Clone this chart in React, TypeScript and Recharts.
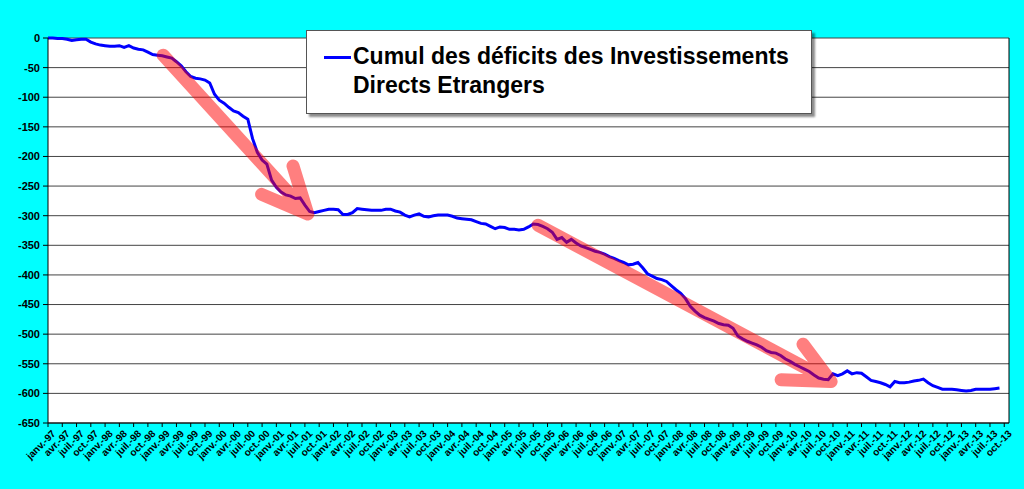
import React from 'react';
import { LineChart, Line, XAxis, YAxis, CartesianGrid, ReferenceLine } from 'recharts';

// Month abbreviations (French) and years covered by the category axis
const monthNames = ['janv.', 'févr.', 'mars', 'avr.', 'mai', 'juin', 'juil.', 'août', 'sept.', 'oct.', 'nov.', 'déc.'];
const firstYear = 1997;
const categoryCount = 202; // janv.-97 .. oct.-13

// Cumulated FDI deficit, monthly, from janv.-97
const cumulDeficit = [
  0, 0, -1, -1, -2, -4, -3, -2, -2, -7,
  -10, -12, -13, -14, -14, -13, -16, -13, -17, -19,
  -20, -24, -28, -29, -30, -32, -34, -40, -47, -57,
  -65, -68, -69, -71, -76, -95, -105, -110, -117, -123,
  -126, -132, -137, -170, -193, -206, -213, -240, -252, -260,
  -265, -267, -271, -270, -282, -293, -295, -293, -291, -289,
  -289, -290, -298, -298, -295, -288, -289, -290, -291, -291,
  -291, -289, -289, -292, -294, -299, -302, -299, -297, -301,
  -302, -300, -299, -299, -299, -301, -304, -305, -306, -307,
  -310, -313, -314, -318, -322, -319, -320, -323, -323, -324,
  -323, -319, -314, -315, -318, -322, -328, -340, -337, -345,
  -340, -346, -351, -354, -357, -360, -362, -365, -369, -372,
  -376, -379, -383, -382, -379, -388, -398, -402, -406, -408,
  -411, -418, -425, -431, -440, -453, -461, -468, -472, -475,
  -478, -482, -484, -485, -490, -503, -508, -512, -515, -518,
  -522, -528, -531, -532, -536, -542, -546, -551, -555, -559,
  -563, -569, -574, -576, -577, -567, -570, -567, -562, -567,
  -565, -566, -572, -578, -580, -582, -585, -589, -580, -582,
  -582, -581, -579, -578, -576, -582, -587, -590, -593, -593,
  -593, -594, -595, -596, -595, -593, -593, -593, -593, -592,
  -591,
];

const yTicks = [0, -50, -100, -150, -200, -250, -300, -350, -400, -450, -500, -550, -600, -650];

// Annotation arrows, each drawn as one polyline (shaft start -> tip -> arm -> tip -> arm)
const arrow1 = [
  { i: 24.2, a: -29 },
  { i: 54.6, a: -297 },
  { i: 51.5, a: -216 },
  { i: 54.6, a: -297 },
  { i: 44.9, a: -264 },
];
const arrow2 = [
  { i: 103, a: -316 },
  { i: 164.6, a: -580 },
  { i: 158.7, a: -517 },
  { i: 164.6, a: -580 },
  { i: 154.1, a: -577 },
];

const categories: string[] = [];
for (let k = 0; k < categoryCount; k++) {
  const yy = String((firstYear + Math.floor(k / 12)) % 100).padStart(2, '0');
  categories.push(`${monthNames[k % 12]}-${yy}`);
}
const xTicks: number[] = [];
for (let k = 0; k < categoryCount; k += 3) xTicks.push(k);

const data = cumulDeficit.map((v, i) => ({ i, month: categories[i], v }));

const FONT = '"Liberation Sans", Arial, sans-serif';

const XTick = (props: any) => {
  const { x, y, payload } = props;
  const label = categories[payload.value] ?? '';
  return (
    <g transform={`translate(${x + 4},${y + 1})`}>
      <text
        x={0}
        y={0}
        dy={6}
        textAnchor="end"
        transform="rotate(-45)"
        fontSize={10}
        fontWeight="bold"
        fontFamily={FONT}
        fill="#000"
      >
        {label}
      </text>
    </g>
  );
};

export default function App() {
  return (
    <div
      style={{
        position: 'absolute',
        left: 0,
        top: 0,
        width: 1024,
        height: 489,
        background: '#00FFFF',
        overflow: 'hidden',
      }}
    >
      <LineChart
        width={1024}
        height={489}
        data={data}
        margin={{ top: 38, right: 15, left: 0, bottom: 36 }}
      >
        <CartesianGrid vertical={false} stroke="#444" strokeWidth={1} fill="#ffffff" fillOpacity={1} />
        <XAxis
          type="number"
          dataKey="i"
          domain={[0, 202]}
          ticks={xTicks}
          interval={0}
          height={30}
          tick={<XTick />}
          tickSize={4}
          tickMargin={2}
          stroke="#000"
          axisLine={{ stroke: '#000' }}
          tickLine={{ stroke: '#000' }}
          allowDecimals={false}
        />
        <YAxis
          type="number"
          domain={[-650, 0]}
          ticks={yTicks}
          interval={0}
          width={48}
          tickSize={5}
          tickMargin={3}
          axisLine={{ stroke: '#000' }}
          tickLine={{ stroke: '#000' }}
          tick={{ fill: '#000', fontSize: 11, fontWeight: 'bold', fontFamily: FONT }}
        />
        <ReferenceLine x={202} stroke="#000" strokeWidth={1} />
        <Line
          type="linear"
          dataKey="v"
          stroke="#0000FF"
          strokeWidth={3}
          dot={false}
          isAnimationActive={false}
        />
        <Line
          data={arrow1}
          type="linear"
          dataKey="a"
          stroke="#FF0000"
          strokeOpacity={0.5}
          strokeWidth={13}
          strokeLinecap="round"
          strokeLinejoin="round"
          dot={false}
          activeDot={false}
          legendType="none"
          isAnimationActive={false}
        />
        <Line
          data={arrow2}
          type="linear"
          dataKey="a"
          stroke="#FF0000"
          strokeOpacity={0.5}
          strokeWidth={13}
          strokeLinecap="round"
          strokeLinejoin="round"
          dot={false}
          activeDot={false}
          legendType="none"
          isAnimationActive={false}
        />
      </LineChart>
      <div
        style={{
          position: 'absolute',
          left: 306,
          top: 30,
          width: 504,
          height: 82,
          background: '#fff',
          border: '1px solid #555',
          boxShadow: '3px 3px 2px rgba(0,0,0,0.45)',
          fontFamily: FONT,
          fontWeight: 'bold',
          fontSize: 23,
          color: '#000',
        }}
      >
        <div style={{ position: 'absolute', left: 17, top: 25, width: 27, height: 3, background: '#0000FF' }} />
        <div style={{ position: 'absolute', left: 46, top: 11, lineHeight: '29px', whiteSpace: 'nowrap' }}>
          Cumul des déficits des Investissements
          <br />
          Directs Etrangers
        </div>
      </div>
    </div>
  );
}
